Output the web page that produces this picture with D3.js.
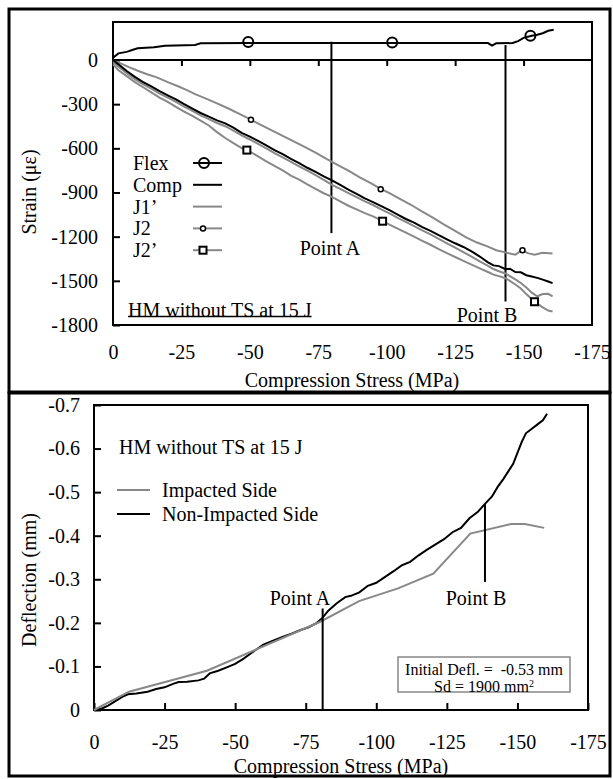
<!DOCTYPE html>
<html>
<head>
<meta charset="utf-8">
<script src="https://cdn.jsdelivr.net/npm/d3@7"></script>
<style>
  body { margin: 0; background: #fff; }
  text { font-family: "Liberation Serif", "Times New Roman", serif; fill: #000; }
</style>
</head>
<body>
<svg width="613" height="779"></svg>
<script>
// ---- shared
var stressTicks = [0, -25, -50, -75, -100, -125, -150, -175];

// ---- top panel : strain vs compression stress
var strainTicks = [0, -300, -600, -900, -1200, -1500, -1800];
var seriesNames = ["Flex", "Comp", "J1\u2019", "J2", "J2\u2019"];

var flexX = [0, -2, -5, -7, -9, -15, -19, -30, -32, -50, -100, -137, -138.5, -140, -146, -148, -150, -153, -155, -157, -159, -161];
var flexY = [15, 45, 55, 68, 79, 86, 97, 102, 113, 115, 115, 115, 98, 113, 115, 128, 150, 165, 172, 182, 198, 205];
var flexMarkX = [-49.4, -102, -152.5];
var flexMarkY = [122, 118, 165];

var compX = [0, -2, -5, -8, -11, -14, -17, -20, -23, -26, -29, -32, -35, -38, -41, -44, -47, -50, -53, -56, -59, -62, -65, -68, -71, -74, -77, -80, -83, -86, -89, -92, -95, -98, -101, -104, -107, -110, -113, -116, -119, -122, -125, -128, -131, -134, -137, -139, -141, -143.4, -145, -147, -149, -151, -153, -155, -157, -159, -160.6];
var compY = [0, -30, -75, -115, -150, -180, -212, -240, -268, -300, -330, -360, -385, -410, -430, -460, -495, -520, -550, -580, -612, -640, -672, -700, -732, -760, -790, -818, -848, -880, -910, -940, -965, -992, -1020, -1050, -1080, -1105, -1135, -1160, -1190, -1218, -1245, -1270, -1300, -1335, -1375, -1395, -1400, -1421, -1418, -1440, -1442, -1462, -1470, -1480, -1492, -1505, -1516];

var j1Y = [-15, -45, -90, -130, -165, -195, -228, -256, -285, -316, -346, -376, -402, -428, -450, -480, -512, -540, -570, -600, -632, -662, -692, -722, -752, -782, -815, -848, -876, -905, -932, -960, -985, -1015, -1042, -1072, -1100, -1128, -1158, -1185, -1215, -1245, -1275, -1305, -1335, -1368, -1398, -1420, -1435, -1450, -1468, -1490, -1515, -1545, -1580, -1605, -1590, -1588, -1606];

var j2pY = [-30, -70, -110, -150, -185, -220, -255, -285, -318, -350, -380, -412, -445, -490, -530, -565, -598, -622, -655, -688, -720, -750, -785, -812, -845, -875, -905, -930, -960, -990, -1015, -1040, -1062, -1090, -1118, -1145, -1172, -1200, -1228, -1255, -1285, -1312, -1338, -1365, -1390, -1415, -1440, -1458, -1468, -1482, -1500, -1525, -1552, -1590, -1625, -1655, -1680, -1702, -1708];
var j2pMarkX = [-48.9, -98.5, -154];
var j2pMarkY = [-612, -1095, -1642];

var j2X = [0, -3, -6, -10, -13, -16, -20, -24, -27, -30, -34, -38, -42, -46, -50, -54, -58, -62, -66, -70, -74, -78, -82, -86, -90, -94, -97.5, -101, -105, -109, -113, -117, -121, -125, -129, -133, -137, -140, -143, -145, -147, -149.5, -151.5, -154, -157, -160.6];
var j2Y = [-5, -25, -50, -80, -100, -118, -150, -180, -205, -232, -262, -295, -328, -365, -402, -440, -478, -515, -553, -590, -630, -672, -712, -752, -795, -835, -872, -905, -945, -985, -1030, -1072, -1118, -1160, -1205, -1240, -1268, -1292, -1305, -1315, -1322, -1292, -1312, -1322, -1310, -1315];
var j2MarkX = [-50.4, -97.8, -149.6];
var j2MarkY = [-406, -878, -1292];

// ---- bottom panel : deflection vs compression stress
var deflTicks = [0, -0.1, -0.2, -0.3, -0.4, -0.5, -0.6, -0.7];
var deflNames = ["Impacted Side", "Non-Impacted Side"];

var impX = [0, -12.4, -40, -80, -93.9, -107.7, -120.2, -133.3, -147.8, -152.6, -159.5];
var impY = [0, -0.042, -0.09, -0.202, -0.25, -0.279, -0.313, -0.405, -0.427, -0.427, -0.418];

var nonX = [0, -3, -5, -8, -10, -12, -15, -19, -22, -25, -28, -30, -33, -37, -39, -41, -44, -47, -50, -53, -56, -60, -63, -67, -70, -73, -76, -79, -81, -83, -86, -89, -91, -94, -97, -100, -103, -106, -109, -112, -115, -118, -121, -124, -127, -130, -133, -136, -138.5, -141, -143, -145, -147, -148.5, -150, -151.5, -153, -155, -157, -159, -160.5];
var nonY = [0, -0.004, -0.01, -0.022, -0.03, -0.036, -0.038, -0.042, -0.048, -0.052, -0.06, -0.064, -0.065, -0.068, -0.072, -0.084, -0.09, -0.098, -0.106, -0.118, -0.132, -0.15, -0.158, -0.168, -0.175, -0.183, -0.19, -0.2, -0.212, -0.228, -0.245, -0.259, -0.262, -0.27, -0.285, -0.292, -0.305, -0.318, -0.332, -0.34, -0.355, -0.368, -0.38, -0.392, -0.408, -0.418, -0.44, -0.455, -0.473, -0.49, -0.512, -0.53, -0.55, -0.565, -0.59, -0.615, -0.635, -0.645, -0.655, -0.665, -0.68];

var gray = "#888";
var svg = d3.select("svg");

// plain "-" and no thousands comma on tick labels
function plain(d) { return String(d); }

// outer panel borders
svg.append("rect").attr("x", 9).attr("y", 9).attr("width", 601).attr("height", 383)
  .style("fill", "none").style("stroke", "#000").style("stroke-width", 3);
svg.append("rect").attr("x", 9).attr("y", 393).attr("width", 601).attr("height", 383)
  .style("fill", "none").style("stroke", "#000").style("stroke-width", 3);

function zipPts(xs, ys) { return xs.map(function(d, i) { return [d, ys[i]]; }); }

/* ================= top panel ================= */
var t = svg.append("g");
var x1 = d3.scaleLinear().domain([0, -175]).range([113, 592]);
var y1 = d3.scaleLinear().domain([-1800, 258]).range([325, 22]);

// y axis, ticks inward
var ya1 = t.append("g").attr("transform", "translate(113,0)")
  .call(d3.axisLeft(y1).tickValues(strainTicks).tickSizeInner(-7).tickSizeOuter(0).tickPadding(15).tickFormat(plain));
ya1.select(".domain").remove();
ya1.selectAll("text").style("font-size", "20px").style("font-family", "Liberation Serif");
ya1.selectAll("line").style("stroke-width", 2);

// zero line with ticks hanging down
var za = t.append("g").attr("transform", "translate(0," + y1(0) + ")")
  .call(d3.axisBottom(x1).tickValues(stressTicks.slice(1, 7)).tickSizeInner(6).tickSizeOuter(0).tickFormat(""));
za.select(".domain").remove();
za.selectAll("line").style("stroke-width", 2);
t.append("line").attr("x1", x1(0)).attr("x2", x1(-175)).attr("y1", y1(0)).attr("y2", y1(0))
  .style("stroke", "#000").style("stroke-width", 2);

// x tick labels under the frame
var xa1 = t.append("g").attr("transform", "translate(0,325)")
  .call(d3.axisBottom(x1).tickValues(stressTicks).tickSize(0).tickFormat(plain));
xa1.select(".domain").remove();
xa1.selectAll("text").attr("y", 27).attr("dy", "0.35em").style("font-size", "20px").style("font-family", "Liberation Serif");

t.append("rect").attr("x", 113).attr("y", 22).attr("width", 479).attr("height", 303)
  .style("fill", "none").style("stroke", "#000").style("stroke-width", 2);

t.append("text").attr("x", 352).attr("y", 380).attr("dy", "0.35em").attr("text-anchor", "middle")
  .style("font-size", "20px").text("Compression Stress (MPa)");
t.append("text").attr("transform", "translate(29,192) rotate(-90)").attr("dy", "0.35em")
  .attr("text-anchor", "middle").style("font-size", "20px").text("Strain (\u03bc\u03b5)");

var line1 = d3.line().x(function(d) { return x1(d[0]); }).y(function(d) { return y1(d[1]); });

// vertical marker lines for Point A / Point B
t.append("line").attr("x1", x1(-79.8)).attr("x2", x1(-79.8)).attr("y1", y1(124)).attr("y2", y1(-1176))
  .style("stroke", "#000").style("stroke-width", 2);
t.append("line").attr("x1", x1(-143.4)).attr("x2", x1(-143.4)).attr("y1", y1(102)).attr("y2", y1(-1640))
  .style("stroke", "#000").style("stroke-width", 2);

var topSeries = [
  {pts: zipPts(j2X, j2Y), c: gray},
  {pts: zipPts(compX, j1Y), c: gray},
  {pts: zipPts(compX, j2pY), c: gray},
  {pts: zipPts(compX, compY), c: "#000"},
  {pts: zipPts(flexX, flexY), c: "#000"}
];
t.selectAll("path.s").data(topSeries).enter().append("path").attr("class", "s")
  .attr("d", function(d) { return line1(d.pts); })
  .style("fill", "none").style("stroke", function(d) { return d.c; }).style("stroke-width", 2);

// markers
t.selectAll("circle.flex").data(zipPts(flexMarkX, flexMarkY)).enter().append("circle").attr("class", "flex")
  .attr("cx", function(d) { return x1(d[0]); }).attr("cy", function(d) { return y1(d[1]); }).attr("r", 5)
  .style("fill", "none").style("stroke", "#000").style("stroke-width", 2);
t.selectAll("circle.j2").data(zipPts(j2MarkX, j2MarkY)).enter().append("circle").attr("class", "j2")
  .attr("cx", function(d) { return x1(d[0]); }).attr("cy", function(d) { return y1(d[1]); }).attr("r", 2.5)
  .style("fill", "#fff").style("stroke", "#000").style("stroke-width", 1.5);
t.selectAll("rect.j2p").data(zipPts(j2pMarkX, j2pMarkY)).enter().append("rect").attr("class", "j2p")
  .attr("x", function(d) { return x1(d[0]) - 3.5; }).attr("y", function(d) { return y1(d[1]) - 3.5; })
  .attr("width", 7).attr("height", 7)
  .style("fill", "#fff").style("stroke", "#000").style("stroke-width", 2);

t.append("text").attr("x", 330).attr("y", 248).attr("dy", "0.35em").attr("text-anchor", "middle")
  .style("font-size", "20px").text("Point A");
t.append("text").attr("x", 487).attr("y", 315).attr("dy", "0.35em").attr("text-anchor", "middle")
  .style("font-size", "20px").text("Point B");

// legend
var leg = t.selectAll("g.leg").data(seriesNames).enter().append("g").attr("class", "leg")
  .attr("transform", function(d, i) { return "translate(0," + (163 + i * 21.8) + ")"; });
leg.append("text").attr("x", 133).attr("dy", "0.35em").style("font-size", "20px").text(function(d) { return d; });
leg.append("line").attr("x1", 193).attr("x2", 222)
  .style("stroke", function(d, i) { return i < 2 ? "#000" : gray; }).style("stroke-width", 2);
leg.filter(function(d, i) { return i === 0; }).append("circle").attr("cx", 204).attr("r", 5)
  .style("fill", "none").style("stroke", "#000").style("stroke-width", 2);
leg.filter(function(d, i) { return i === 3; }).append("circle").attr("cx", 203).attr("r", 2.5)
  .style("fill", "#fff").style("stroke", "#000").style("stroke-width", 1.5);
leg.filter(function(d, i) { return i === 4; }).append("rect").attr("x", 199.5).attr("y", -3.5)
  .attr("width", 7).attr("height", 7).style("fill", "#fff").style("stroke", "#000").style("stroke-width", 2);

var hm1 = t.append("text").attr("x", 128).attr("y", 310).attr("dy", "0.35em")
  .style("font-size", "20px").text("HM without TS at 15 J");
var hmw = hm1.node().getComputedTextLength();
t.append("line").attr("x1", 128).attr("x2", 128 + hmw).attr("y1", 316.5).attr("y2", 316.5)
  .style("stroke", "#000").style("stroke-width", 1.5);

/* ================= bottom panel ================= */
var b = svg.append("g");
var x2 = d3.scaleLinear().domain([0, -175]).range([94, 588]);
var y2 = d3.scaleLinear().domain([0, -0.7]).range([710, 405]);

var ya2 = b.append("g").attr("transform", "translate(94,0)")
  .call(d3.axisLeft(y2).tickValues(deflTicks).tickSizeInner(-7).tickSizeOuter(0).tickPadding(14)
    .tickFormat(function(d) { return d === 0 ? "0" : d.toFixed(1); }));
ya2.select(".domain").remove();
ya2.selectAll("text").style("font-size", "20px").style("font-family", "Liberation Serif");
ya2.selectAll("line").style("stroke-width", 2);

var xa2 = b.append("g").attr("transform", "translate(0,710)")
  .call(d3.axisBottom(x2).tickValues(stressTicks).tickSizeInner(-7).tickSizeOuter(0).tickFormat(plain));
xa2.select(".domain").remove();
xa2.selectAll("text").attr("y", 32).attr("dy", "0.35em").style("font-size", "20px").style("font-family", "Liberation Serif");
xa2.selectAll("line").style("stroke-width", 2);

b.append("rect").attr("x", 94).attr("y", 405).attr("width", 494).attr("height", 305)
  .style("fill", "none").style("stroke", "#000").style("stroke-width", 2);

b.append("text").attr("x", 341).attr("y", 766).attr("dy", "0.35em").attr("text-anchor", "middle")
  .style("font-size", "20px").text("Compression Stress (MPa)");
b.append("text").attr("transform", "translate(29,580) rotate(-90)").attr("dy", "0.35em")
  .attr("text-anchor", "middle").style("font-size", "20px").text("Deflection (mm)");

var line2 = d3.line().x(function(d) { return x2(d[0]); }).y(function(d) { return y2(d[1]); });

b.append("path").attr("d", line2(zipPts(nonX, nonY)))
  .style("fill", "none").style("stroke", "#000").style("stroke-width", 2);
b.append("path").attr("d", line2(zipPts(impX, impY)))
  .style("fill", "none").style("stroke", gray).style("stroke-width", 2);

b.append("line").attr("x1", x2(-81)).attr("x2", x2(-81)).attr("y1", y2(0)).attr("y2", y2(-0.233))
  .style("stroke", "#000").style("stroke-width", 2);
b.append("line").attr("x1", x2(-138.5)).attr("x2", x2(-138.5)).attr("y1", y2(-0.473)).attr("y2", y2(-0.294))
  .style("stroke", "#000").style("stroke-width", 2);
b.append("text").attr("x", 300).attr("y", 598).attr("dy", "0.35em").attr("text-anchor", "middle")
  .style("font-size", "20px").text("Point A");
b.append("text").attr("x", 476).attr("y", 598).attr("dy", "0.35em").attr("text-anchor", "middle")
  .style("font-size", "20px").text("Point B");

b.append("text").attr("x", 119).attr("y", 447).attr("dy", "0.35em")
  .style("font-size", "20px").text("HM without TS at 15 J");

var leg2 = b.selectAll("g.leg2").data(deflNames).enter().append("g").attr("class", "leg2")
  .attr("transform", function(d, i) { return "translate(0," + (490 + i * 24) + ")"; });
leg2.append("line").attr("x1", 117).attr("x2", 150)
  .style("stroke", function(d, i) { return i === 0 ? gray : "#000"; }).style("stroke-width", 2);
leg2.append("text").attr("x", 162).attr("dy", "0.35em").style("font-size", "20px").text(function(d) { return d; });

// info box
b.append("rect").attr("x", 398).attr("y", 657).attr("width", 172).attr("height", 35)
  .style("fill", "#fff").style("stroke", gray).style("stroke-width", 1.5);
b.append("text").attr("x", 484).attr("y", 669).attr("dy", "0.35em").attr("text-anchor", "middle")
  .style("font-size", "16px").style("white-space", "pre").text("Initial Defl. =  -0.53 mm");
var sd = b.append("text").attr("x", 484).attr("y", 686).attr("dy", "0.35em").attr("text-anchor", "middle")
  .style("font-size", "16px");
sd.append("tspan").text("Sd = 1900 mm");
sd.append("tspan").attr("dy", "-0.5em").style("font-size", "10px").text("2");
</script>
</body>
</html>
